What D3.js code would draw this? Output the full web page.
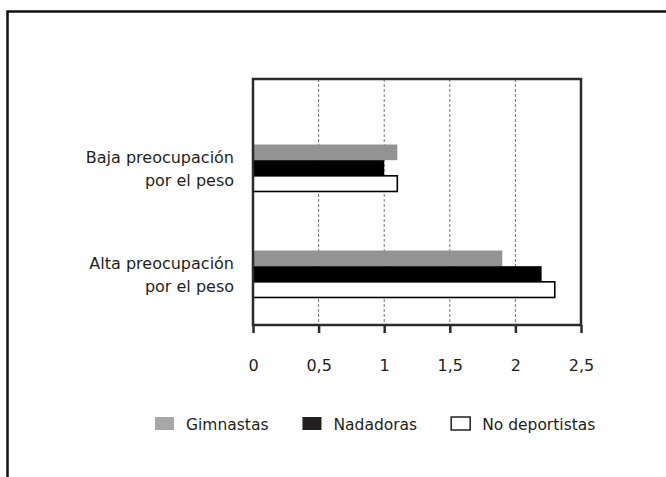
<!DOCTYPE html>
<html>
<head>
<meta charset="utf-8">
<script src="https://cdn.jsdelivr.net/npm/d3@7/dist/d3.min.js"></script>
<style>
  body { margin: 0; background: #fff; }
  svg text { font-family: "DejaVu Sans", sans-serif; fill: #231f20; }
</style>
</head>
<body>
<div id="chart"></div>
<script>
const categories = [
  ["Baja preocupación", "por el peso"],
  ["Alta preocupación", "por el peso"]
];
const seriesNames = ["Gimnastas", "Nadadoras", "No deportistas"];
const gimnastas = [1.1, 1.9];
const nadadoras = [1.0, 2.2];
const noDeportistas = [1.1, 2.3];
const tickValues = [0, 0.5, 1, 1.5, 2, 2.5];

const width = 666, height = 477;
const plot = { left: 253, right: 581, top: 79, bottom: 325 };
const fontSize = 16;

const svg = d3.select("#chart").append("svg")
    .attr("width", width).attr("height", height);

// outer frame (top + left only)
svg.append("path")
    .attr("d", `M7.5,${height} L7.5,11.5 L${width},11.5`)
    .attr("fill", "none").attr("stroke", "#111").attr("stroke-width", 2.5);

const x = d3.scaleLinear().domain([0, 2.5]).range([plot.left, plot.right]);
const y = d3.scaleBand().domain(d3.range(categories.length))
    .range([115, 327]).paddingInner(0.557).paddingOuter(0.2785);
const ySub = d3.scaleBand().domain(seriesNames).range([0, y.bandwidth()]);

const fills = { "Gimnastas": "#939393", "Nadadoras": "#000", "No deportistas": "#fff" };
const legendFills = { "Gimnastas": "#a7a7aa", "Nadadoras": "#231f20", "No deportistas": "#fff" };

const rows = [];
categories.forEach((c, i) => {
  rows.push({ cat: i, series: "Gimnastas", value: gimnastas[i] });
  rows.push({ cat: i, series: "Nadadoras", value: nadadoras[i] });
  rows.push({ cat: i, series: "No deportistas", value: noDeportistas[i] });
});

// dashed grid
svg.append("g").selectAll("line")
    .data(tickValues.slice(1, -1)).enter().append("line")
    .attr("x1", d => x(d)).attr("x2", d => x(d))
    .attr("y1", plot.top).attr("y2", plot.bottom)
    .attr("stroke", "#777").attr("stroke-width", 1)
    .attr("stroke-dasharray", "3,2");

// bars
svg.append("g").selectAll("rect")
    .data(rows).enter().append("rect")
    .attr("x", x(0))
    .attr("y", d => y(d.cat) + ySub(d.series))
    .attr("width", d => x(d.value) - x(0))
    .attr("height", ySub.bandwidth())
    .attr("fill", d => fills[d.series])
    .attr("stroke", d => d.series === "No deportistas" ? "#000" : "none")
    .attr("stroke-width", 1.6);

// plot box
svg.append("rect")
    .attr("x", plot.left).attr("y", plot.top)
    .attr("width", plot.right - plot.left).attr("height", plot.bottom - plot.top)
    .attr("fill", "none").attr("stroke", "#2b2b2b").attr("stroke-width", 2.5);

// x axis
const xAxis = svg.append("g")
    .attr("transform", `translate(0,${plot.bottom})`)
    .call(d3.axisBottom(x).tickValues(tickValues).tickSize(8).tickPadding(27)
      .tickFormat(d => String(d).replace(".", ",")));
xAxis.select(".domain").remove();
xAxis.selectAll(".tick line").attr("stroke", "#2b2b2b").attr("stroke-width", 2.5);
xAxis.selectAll(".tick text").attr("font-size", fontSize).attr("font-family", "DejaVu Sans").attr("fill", "#231f20");

// category labels
const labels = svg.append("g").selectAll("text")
    .data(categories).enter().append("text")
    .attr("text-anchor", "end").attr("font-size", fontSize);
labels.each(function(lines, i) {
  const base = y(i) + y.bandwidth() / 2;
  d3.select(this).selectAll("tspan").data(lines).enter().append("tspan")
    .attr("x", 234)
    .attr("y", (d, j) => base - 5 + j * 23)
    .text(d => d);
});

// legend
const legend = svg.append("g");
let lx = 155;
seriesNames.forEach(s => {
  legend.append("rect")
    .attr("x", lx).attr("y", 417).attr("width", 19).attr("height", 13)
    .attr("fill", legendFills[s])
    .attr("stroke", s === "No deportistas" ? "#231f20" : "none")
    .attr("stroke-width", 1.5);
  const t = legend.append("text")
    .attr("x", lx + 31).attr("y", 430).attr("font-size", 15.5).text(s);
  lx += 31 + t.node().getComputedTextLength() + 34;
});
</script>
</body>
</html>
